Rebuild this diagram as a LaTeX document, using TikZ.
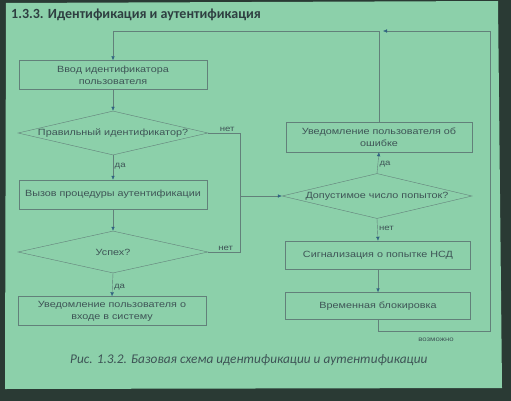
\documentclass[tikz,border=0pt]{standalone}
\usepackage{fontspec}
\setmainfont{Liberation Sans}
\newfontfamily\boxfont[FakeStretch=1.2]{Liberation Sans}
\newfontfamily\titlefont{Carlito}
\usetikzlibrary{arrows.meta, calc, positioning, shapes.geometric}

\definecolor{slide}{RGB}{140,208,170}
\definecolor{frame}{RGB}{42,58,52}
\definecolor{ink}{RGB}{62,84,86}
\definecolor{wire}{RGB}{98,128,122}
\definecolor{tipc}{RGB}{48,98,128}

\begin{document}
\begin{tikzpicture}[x=1pt, y=-1pt,
  box/.style={draw=wire, thin, inner sep=0pt, minimum width=188pt, minimum height=29pt,
    align=center, text=ink, font=\boxfont\fontsize{9}{12}\selectfont},
  decision/.style={diamond, draw=wire, thin, inner sep=0pt, minimum width=190pt,
    minimum height=44pt, text=ink, font=\boxfont\fontsize{9}{12}\selectfont},
  wireline/.style={draw=wire, thin},
  flow/.style={wireline, -{Latex[length=4pt, width=3.5pt, color=tipc]}},
  tag/.style={text=ink, font=\boxfont\fontsize{8}{9}\selectfont, inner sep=1.5pt}]
\useasboundingbox (0,0) rectangle (511,401);

% Screen and slide
\fill[frame] (0,0) rectangle (511,401);
\fill[slide] (6,3) -- (498,1) -- (502,388) -- (5,389) -- cycle;

% Title
\node[anchor=base west, text=ink!75!black, font=\titlefont\bfseries\fontsize{14}{16}\selectfont,
  inner sep=0pt] (title) at (11,19) {1.3.3. Идентификация и аутентификация};

% Left column
\node[box] (input) at (113,75) {Ввод идентификатора\\пользователя};
\node[decision] (checkid) at (113,133) {\makebox[0pt]{Правильный идентификатор?}};
\node[box] (auth) at (113,194.5) {Вызов процедуры аутентификации};
\node[decision, minimum height=42pt] (success) at (113,252) {\makebox[0pt]{Успех?}};
\node[box] (granted) at (112,311) {Уведомление пользователя о\\входе в систему};

% Right column
\node[box, minimum width=186pt, minimum height=30pt] (error) at (379,137)
  {Уведомление пользователя об\\ошибке};
\node[decision, minimum height=45pt] (attempts) at (377,196)
  {\makebox[0pt]{Допустимое число попыток?}};
\node[box, minimum width=185pt, minimum height=28pt] (alarm) at (378,255)
  {Сигнализация о попытке НСД};
\node[box, minimum width=185pt, minimum height=27pt] (lock) at (378,306)
  {Временная блокировка};

% Junction points
\coordinate (bustop) at (240,133);
\coordinate (busbot) at (240,252);
\coordinate (entry) at (113,31);
\coordinate (loopbot) at (490,331);

% Connectors
\draw[flow] (entry) -- (input.north);
\draw[flow] (input.south) -- (checkid.north);
\draw[flow] (checkid.south) -- node[tag, right, pos=0.45] {да} (auth.north);
\draw[flow] (auth.south) -- (success.north);
\draw[flow] (success.south) -- node[tag, right, pos=0.62] {да} (granted.north);
\draw[wireline] (checkid.east) -- node[tag, above, pos=0.6] {нет} (bustop) -- (busbot)
  -- node[tag, above, pos=0.45] {нет} (success.east);
\draw[flow] (bustop |- attempts.west) -- (attempts.west);
\draw[flow] (attempts.north) -- node[tag, right, pos=0.45] {да} (error.south);
\draw[flow] (attempts.south) -- node[tag, right, pos=0.45] {нет} (alarm.north);
\draw[flow] (alarm.south) -- (lock.north);
\draw[wireline] (error.north) |- (entry);
\draw[flow] (lock.south) |- (loopbot) -- (loopbot |- entry) -- ($(error.north |- entry)+(4,0)$);
\node[tag, font=\boxfont\fontsize{6.5}{8}\selectfont] (maybe) at (436,340) {возможно};

% Caption
\node[anchor=base west, text=ink, font=\titlefont\itshape\fontsize{13.3}{15}\selectfont,
  inner sep=0pt] (caption) at (70,363)
  {Рис. 1.3.2. Базовая схема идентификации и аутентификации};
\end{tikzpicture}
\end{document}
